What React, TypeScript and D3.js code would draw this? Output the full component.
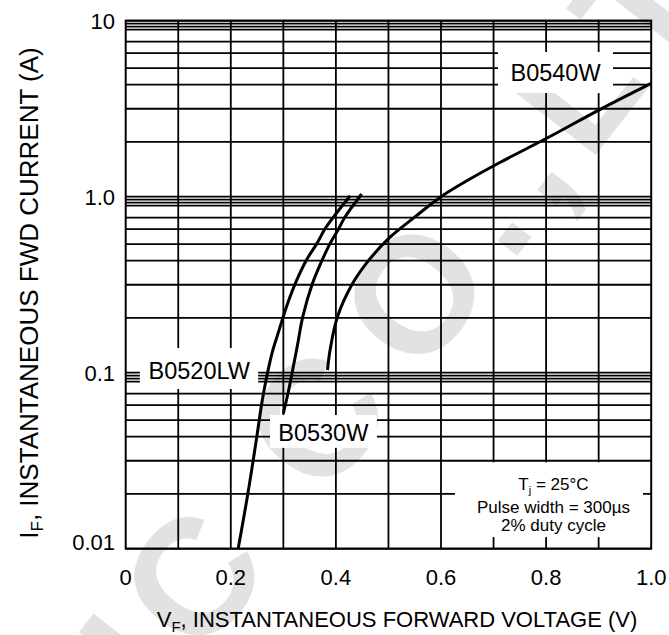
import React, { useRef, useEffect } from 'react';
import * as d3 from 'd3';

// chart values
const xTickValues = [0, 0.2, 0.4, 0.6, 0.8, 1.0];
const xTickLabels = ['0', '0.2', '0.4', '0.6', '0.8', '1.0'];
const xGridValues = [0.1, 0.2, 0.3, 0.4, 0.5, 0.6, 0.7, 0.8, 0.9];
const yDecades = [10, 1, 0.1, 0.01];
const yTickLabels = ['10', '1.0', '0.1', '0.01'];
// the printed grid is not a true log grid, these are the line positions inside each decade
const yMinorFactors = [0.962, 0.925, 0.889, 0.76, 0.654, 0.537, 0.433, 0.316, 0.205];

const b0520lwV = [0.214, 0.233, 0.250, 0.260, 0.269, 0.279, 0.292, 0.307, 0.324, 0.344, 0.364, 0.379, 0.395, 0.427];
const b0520lwI = [0.01, 0.021, 0.0443, 0.070, 0.097, 0.131, 0.175, 0.242, 0.328, 0.437, 0.543, 0.655, 0.764, 1.013];

const b0530wV = [0.300, 0.309, 0.317, 0.327, 0.337, 0.355, 0.374, 0.389, 0.405, 0.417, 0.449];
const b0530wI = [0.0588, 0.0767, 0.101, 0.144, 0.208, 0.319, 0.437, 0.543, 0.655, 0.764, 1.036];

const b0540wV = [0.384, 0.389, 0.403, 0.432, 0.462, 0.502, 0.551, 0.600, 0.655, 0.712, 0.801, 0.903, 1.0];
const b0540wI = [0.1036, 0.135, 0.208, 0.322, 0.433, 0.585, 0.77, 1.0, 1.26, 1.564, 2.147, 3.137, 4.406];

const seriesNames = ['B0520LW', 'B0530W', 'B0540W'];
const conditionLines = ['Pulse width = 300\u00b5s', '2% duty cycle'];

const FONT = '"Liberation Sans", Arial, Helvetica, sans-serif';

const ForwardCurves = () => {
  const svgRef = useRef(null);

  useEffect(() => {
    const width = 669;
    const height = 635;
    const svg = d3.select(svgRef.current);
    svg.selectAll('*').remove();

    const x = d3.scaleLinear().domain([0, 1]).range([125.7, 651.2]);
    const y = d3.scaleLog().domain([0.01, 10]).range([548.7, 20.7]);

    svg.append('rect').attr('width', width).attr('height', height).attr('fill', '#fff');

    // watermark
    const wm = svg.append('g')
      .attr('transform', 'translate(413,293) rotate(-52)')
      .style('font-family', FONT)
      .style('font-weight', 'bold')
      .style('font-size', '165px')
      .style('letter-spacing', '18px')
      .attr('fill', '#e2e2e2');
    wm.append('text').attr('x', -82).attr('y', 59).attr('text-anchor', 'end').text('MIC C');
    wm.append('text').attr('x', -64).attr('y', 59).attr('text-anchor', 'start').text('O.,LTD');

    const g = svg.append('g');

    // horizontal grid
    const hLines = [];
    yDecades.forEach((d) => hLines.push(d));
    yDecades.slice(0, 3).forEach((d) => yMinorFactors.forEach((f) => hLines.push(d * f)));
    g.selectAll('line.h')
      .data(hLines)
      .enter().append('line')
      .attr('class', 'h')
      .attr('x1', x(0)).attr('x2', x(1))
      .attr('y1', (d) => y(d)).attr('y2', (d) => y(d))
      .attr('stroke', '#000')
      .attr('stroke-width', 1.8);

    // vertical grid
    g.selectAll('line.v')
      .data(xGridValues)
      .enter().append('line')
      .attr('class', 'v')
      .attr('x1', (d) => x(d)).attr('x2', (d) => x(d))
      .attr('y1', y(10)).attr('y2', y(0.01))
      .attr('stroke', '#000')
      .attr('stroke-width', 1.8);

    // frame
    g.append('rect')
      .attr('x', x(0)).attr('y', y(10))
      .attr('width', x(1) - x(0)).attr('height', y(0.01) - y(10))
      .attr('fill', 'none').attr('stroke', '#000').attr('stroke-width', 2);

    // curves
    const line = d3.line()
      .x((d) => x(d[0]))
      .y((d) => y(d[1]))
      .curve(d3.curveCatmullRom.alpha(0.5));
    const curves = [
      d3.zip(b0520lwV, b0520lwI),
      d3.zip(b0530wV, b0530wI),
      d3.zip(b0540wV, b0540wI),
    ];
    g.selectAll('path.curve')
      .data(curves)
      .enter().append('path')
      .attr('class', 'curve')
      .attr('d', (d) => line(d))
      .attr('fill', 'none')
      .attr('stroke', '#000')
      .attr('stroke-width', 3);

    // white boxes behind the labels (cut the grid)
    const boxes = [
      { v0: 0.027, v1: 0.252, i0: 0.138, i1: 0.0808, tv: 0.14, ti: 0.1035, text: seriesNames[0] },
      { v0: 0.2746, v1: 0.478, i0: 0.0575, i1: 0.0374, tv: 0.376, ti: 0.046, text: seriesNames[1] },
      { v0: 0.7085, v1: 0.9273, i0: 6.64, i1: 3.88, tv: 0.818, ti: 5.05, text: seriesNames[2] },
    ];
    boxes.forEach((b) => {
      g.append('rect')
        .attr('x', x(b.v0)).attr('y', y(b.i0))
        .attr('width', x(b.v1) - x(b.v0)).attr('height', y(b.i1) - y(b.i0))
        .attr('fill', '#fff');
      g.append('text')
        .attr('x', x(b.tv)).attr('y', y(b.ti))
        .attr('dy', '0.36em')
        .attr('text-anchor', 'middle')
        .style('font-family', FONT)
        .style('font-size', '23.5px')
        .text(b.text);
    });

    // test conditions box
    const cx = x(0.814);
    g.append('rect')
      .attr('x', x(0.6266)).attr('y', y(0.0316) + 1.5)
      .attr('width', x(0.9844) - x(0.6266)).attr('height', y(0.01164) - y(0.0316) - 1.5)
      .attr('fill', '#fff');
    const tj = g.append('text')
      .attr('x', cx).attr('y', 490)
      .attr('text-anchor', 'middle')
      .style('font-family', FONT)
      .style('font-size', '17px');
    tj.append('tspan').text('T');
    tj.append('tspan').attr('dy', 4).style('font-size', '11px').text('j');
    tj.append('tspan').attr('dy', -4).text(' = 25\u00b0C');
    conditionLines.forEach((t, k) => {
      g.append('text')
        .attr('x', cx).attr('y', 513 + k * 18)
        .attr('text-anchor', 'middle')
        .style('font-family', FONT)
        .style('font-size', '17px')
        .text(t);
    });

    // tick labels
    g.selectAll('text.ytick')
      .data(yDecades)
      .enter().append('text')
      .attr('class', 'ytick')
      .attr('x', 115)
      .attr('y', (d) => y(d) + (d === 0.01 ? -7 : 0))
      .attr('dy', '0.36em')
      .attr('text-anchor', 'end')
      .style('font-family', FONT)
      .style('font-size', '22px')
      .text((d, k) => yTickLabels[k]);

    g.selectAll('text.xtick')
      .data(xTickValues)
      .enter().append('text')
      .attr('class', 'xtick')
      .attr('x', (d) => x(d))
      .attr('y', 585)
      .attr('text-anchor', 'middle')
      .style('font-family', FONT)
      .style('font-size', '22px')
      .text((d, k) => xTickLabels[k]);

    // axis titles
    const xt = g.append('text')
      .attr('x', 397).attr('y', 627)
      .attr('text-anchor', 'middle')
      .style('font-family', FONT)
      .style('font-size', '22px');
    xt.append('tspan').text('V');
    xt.append('tspan').attr('dy', 5).style('font-size', '15px').text('F');
    xt.append('tspan').attr('dy', -5).text(', INSTANTANEOUS FORWARD VOLTAGE (V)');

    const yt = g.append('text')
      .attr('transform', 'translate(38,293) rotate(-90)')
      .attr('text-anchor', 'middle')
      .style('font-family', FONT)
      .style('font-size', '26px');
    yt.append('tspan').text('I');
    yt.append('tspan').attr('dy', 5).style('font-size', '17px').text('F');
    yt.append('tspan').attr('dy', -5).text(', INSTANTANEOUS FWD CURRENT (A)');
  }, []);

  return <svg ref={svgRef} width={669} height={635} style={{ position: 'absolute', left: 0, top: 0 }} />;
};

export default function App() {
  return <ForwardCurves />;
}
